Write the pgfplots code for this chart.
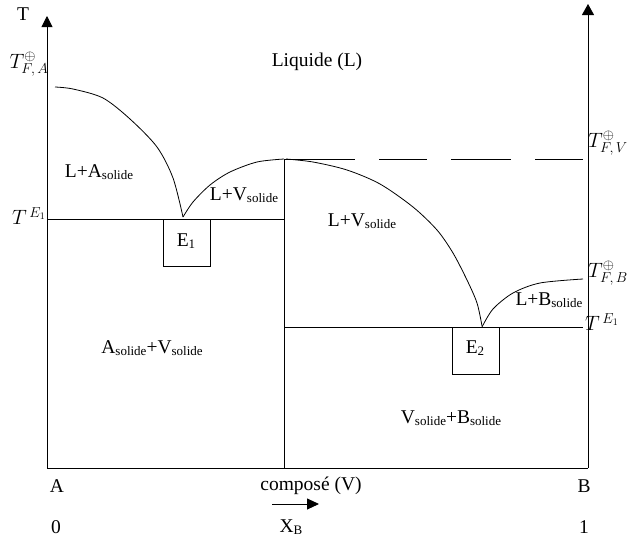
\documentclass[border=0pt]{standalone}
\usepackage{fontspec}
\setmainfont{Liberation Serif}
\usepackage{pgfplots}
\pgfplotsset{compat=1.18}
\usetikzlibrary{arrows.meta}
\newcommand\sub[1]{\raisebox{-2.5pt}{\fontsize{13}{13}\selectfont #1}}
\newcommand\smath[1]{\mbox{\fontsize{14}{14}\selectfont$#1$}}
\begin{document}
\fontsize{19.5}{20}\selectfont
\begin{tikzpicture}[font=\fontsize{19.5}{20}\selectfont]
\begin{axis}[hide axis, scale only axis, width=629pt, height=546pt,
  xmin=0, xmax=629, ymin=0, ymax=546, y dir=reverse, clip=false,
  cycle list={{black, solid, line width=0.9pt, mark=none}},
  nodes={inner sep=0pt}]
\addplot[draw=none] coordinates {(0,0) (629,546)};
% axes
\addplot[black, line width=0.9pt, -{Triangle[length=11pt,width=11pt]}] coordinates {(47,468) (47,16)};
\addplot[black, line width=0.9pt, -{Triangle[length=11pt,width=12pt]}] coordinates {(588,468) (588,4)};
\addplot coordinates {(47,468) (588,468)};
\addplot coordinates {(284,159) (284,468)};
\addplot coordinates {(47,219) (284,219)};
\addplot coordinates {(284,327) (583,327)};
% dashed level
\addplot coordinates {(284,159) (355,159)};
\addplot coordinates {(379,159) (427,159)};
\addplot coordinates {(451,159) (511,159)};
\addplot coordinates {(535,159) (583,159)};
% boxes
\addplot coordinates {(163,219) (163,266) (210,266) (210,219)};
\addplot coordinates {(452,327) (452,374) (499,374) (499,327)};
% curves
\addplot[black, smooth, line width=0.8pt] coordinates {(55,87) (73,89) (103,98) (130,119) (157,147) (173,178) (183,217)};
\addplot[black, smooth, line width=0.8pt] coordinates {(183,217) (193,202) (210,185) (230,172) (257,162) (284,159)};
\addplot[black, smooth, line width=0.8pt] coordinates {(286,159) (313,162) (347,170) (380,184) (413,207) (437,230) (453,253) (467,280) (477,303) (482,326)};
\addplot[black, smooth, line width=0.8pt] coordinates {(482,327) (493,309) (513,293) (540,283) (583,279)};
% labels
\node[inner sep=0pt] at (axis cs:23,14) {T};
\node[inner sep=0pt] at (axis cs:317,62) {Liquide (L)};
\node[inner sep=0pt] at (axis cs:99,172) {L+A\sub{solide}};
\node[inner sep=0pt] at (axis cs:244,195) {L+V\sub{solide}};
\node[inner sep=0pt] at (axis cs:362,221) {L+V\sub{solide}};
\node[inner sep=0pt] at (axis cs:549,300) {L+B\sub{solide}};
\node[inner sep=0pt] at (axis cs:186,241) {E\sub{1}};
\node[inner sep=0pt] at (axis cs:475,348) {E\sub{2}};
\node[inner sep=0pt] at (axis cs:152,348) {A\sub{solide}+V\sub{solide}};
\node[inner sep=0pt] at (axis cs:451,418) {V\sub{solide}+B\sub{solide}};
\node[inner sep=0pt] at (axis cs:57,486) {A};
\node[inner sep=0pt] at (axis cs:311,486) {composé (V)};
\node[inner sep=0pt] at (axis cs:584,486) {B};
\node[inner sep=0pt] at (axis cs:56,527) {0};
\node[inner sep=0pt] at (axis cs:291,527) {X\sub{B}};
\node[inner sep=0pt] at (axis cs:584,527) {1};
\node[inner sep=0pt] at (axis cs:29,64) {$T^{\smath{\oplus}}_{\smath{F,A}}$};
\node[inner sep=0pt] at (axis cs:29,216) {$T^{\,\smath{E_1}}$};
\node[inner sep=0pt] at (axis cs:608,143) {$T^{\smath{\oplus}}_{\smath{F,V}}$};
\node[inner sep=0pt] at (axis cs:608,273) {$T^{\smath{\oplus}}_{\smath{F,B}}$};
\node[inner sep=0pt] at (axis cs:602,322) {$T^{\,\smath{E_1}}$};
\addplot[black, line width=0.9pt, -{Triangle[length=12pt,width=11pt]}] coordinates {(272,504) (319,504)};
\end{axis}
\end{tikzpicture}
\end{document}
